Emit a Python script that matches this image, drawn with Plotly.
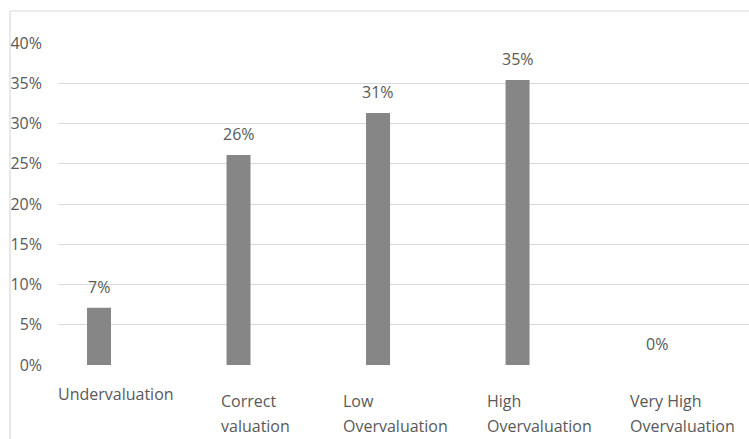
import plotly.graph_objects as go

# Share of responses per valuation category (percent)
categories = [
    "Undervaluation",
    "Correct valuation",
    "Low Overvaluation",
    "High Overvaluation",
    "Very High Overvaluation",
]
shares = [7.1, 26.1, 31.3, 35.4, 0.0]
y_ticks = [0, 5, 10, 15, 20, 25, 30, 35, 40]

# Styling
TEXT = "#595959"
GRID = "#d9d9d9"
BAR = "#868686"
FONT = "Open Sans"
W, H = 749, 439
M_L, M_R, M_T, M_B = 58, 0, 43, 74
PW, PH = W - M_L - M_R, H - M_T - M_B

# Horizontal nudge of each wrapped category label relative to its bar (px)
label_shift = [-43, -20, -37, -33, -29]

fig = go.Figure(
    go.Bar(
        x=categories,
        y=shares,
        width=0.172,
        marker=dict(color=BAR, line=dict(width=0)),
        hoverinfo="skip",
    )
)

annotations = []
# value labels above the bars
for c, v in zip(categories, shares):
    annotations.append(dict(
        x=c, y=v, xref="x", yref="y",
        text=f"{v:.0f}%", showarrow=False,
        xanchor="center", yanchor="bottom", yshift=8,
        font=dict(family=FONT, size=16, color=TEXT),
    ))

# wrapped, left-aligned category labels under the axis
for c, dx in zip(categories, label_shift):
    parts = c.rsplit(" ", 1)
    if len(parts) == 1:
        lines = [(parts[0], 29)]
    else:
        lines = [(parts[0], 36), (parts[1], 61)]
    for txt, dy in lines:
        annotations.append(dict(
            x=c, y=0, xref="x", yref="paper",
            text=txt, showarrow=False,
            xanchor="left", yanchor="middle",
            xshift=dx, yshift=-dy,
            font=dict(family=FONT, size=16, color=TEXT),
        ))

# outer chart frame (left and top edges)
x_left = (10 - M_L) / PW
y_top = (H - M_B - 11) / PH
y_bottom = -(M_B + 5) / PH
shapes = [
    dict(type="line", xref="paper", yref="paper",
         x0=x_left, x1=x_left, y0=y_bottom, y1=y_top,
         line=dict(color=GRID, width=1.2)),
    dict(type="line", xref="paper", yref="paper",
         x0=x_left, x1=1.05, y0=y_top, y1=y_top,
         line=dict(color=GRID, width=1.2)),
]

fig.update_layout(
    width=W, height=H,
    margin=dict(l=M_L, r=M_R, t=M_T, b=M_B, pad=0),
    paper_bgcolor="white",
    plot_bgcolor="white",
    showlegend=False,
    font=dict(family=FONT, size=16, color=TEXT),
    annotations=annotations,
    shapes=shapes,
    xaxis=dict(
        type="category",
        range=[-0.294, 4.659],
        showticklabels=False,
        showgrid=False,
        zeroline=False,
        showline=False,
        ticks="",
        fixedrange=True,
    ),
    yaxis=dict(
        range=[0, 40],
        tickvals=y_ticks,
        ticktext=[f"{t}%" for t in y_ticks],
        tickfont=dict(family=FONT, size=16, color=TEXT),
        ticks="",
        ticklabelstandoff=15,
        showgrid=True,
        gridcolor=GRID,
        gridwidth=1.3,
        zeroline=False,
        showline=False,
        fixedrange=True,
    ),
)

fig.write_html("out.html")
